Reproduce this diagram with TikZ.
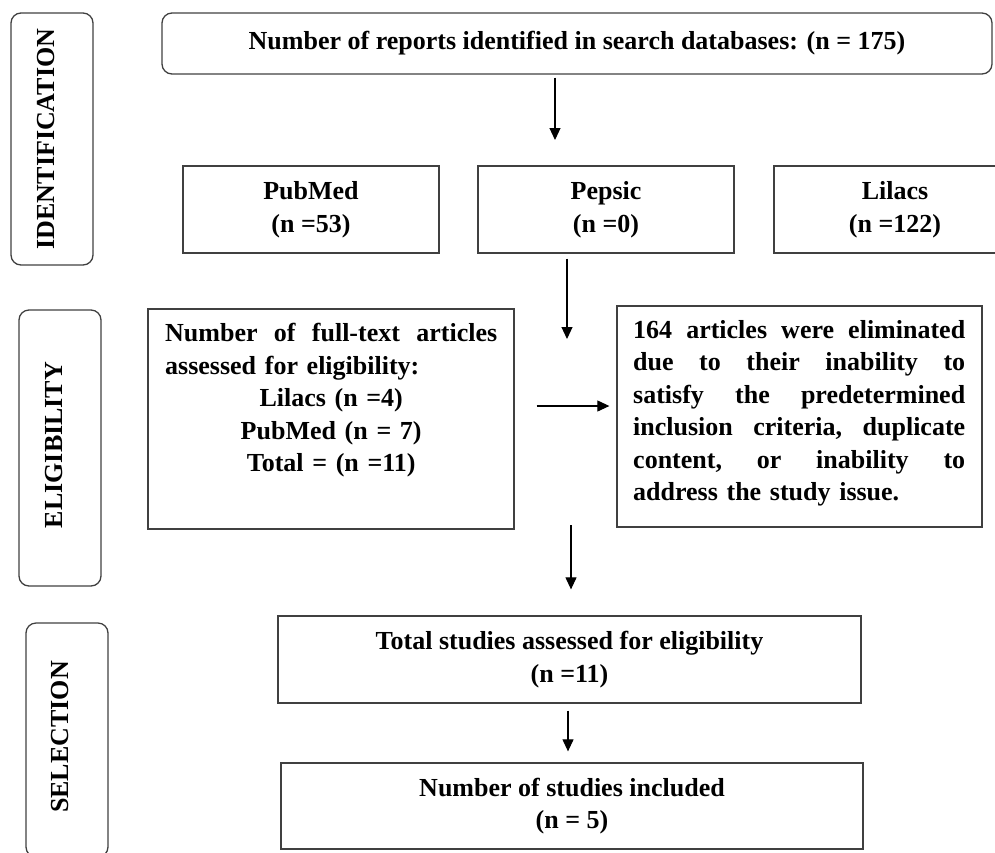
\documentclass[tikz,border=0pt]{standalone}
\usepackage{fontspec}
\setmainfont{Liberation Serif}
\usetikzlibrary{arrows.meta,calc}
\newcommand\jline[1]{\leavevmode\hbox to 332pt{#1}}
\newcommand\cenline[1]{\leavevmode\hbox to 332pt{\hfil#1\hfil}}
\begin{document}
\begin{tikzpicture}[x=1pt,y=-1pt,
  every node/.style={font=\fontsize{26}{32.5}\selectfont\bfseries, text=black},
  stagebox/.style={draw=black!75, line width=1.3pt, rounded corners=10pt, inner sep=0pt},
  box/.style={draw=black!75, line width=1.3pt, align=center, inner sep=0pt},
  txt/.style={inner sep=0pt, align=left, text width=332pt, anchor=north west},
  arr/.style={draw=black, line width=1.1pt, -{Triangle[length=12pt,width=11pt]}}]
\useasboundingbox (0,0) rectangle (995,852);
\clip (0,0) rectangle (995,852);

% stage labels
\node[stagebox, minimum width=82pt, minimum height=252pt] (idbox) at (52,139) {};
\node[rotate=90, inner sep=0pt] (idtxt) at (46,139) {IDENTIFICATION};
\node[stagebox, minimum width=82pt, minimum height=276pt] (elbox) at (60,448) {};
\node[rotate=90, inner sep=0pt] (eltxt) at (54,445) {ELIGIBILITY};
\node[stagebox, minimum width=82pt, minimum height=234pt] (selbox) at (67,740) {};
\node[rotate=90, inner sep=0pt] (seltxt) at (60,737) {SELECTION};

% identification
\node[box, rounded corners=10pt, minimum width=830pt, minimum height=61pt] (top) at (577,43.5)
  {Number of reports identified in search databases: (n = 175)};
\node[box, minimum width=256pt, minimum height=87pt] (pubmed) at (311,209.5) {PubMed\\(n =53)};
\node[box, minimum width=256pt, minimum height=87pt] (pepsic) at (606,209.5) {Pepsic\\(n =0)};
\node[box, minimum width=242pt, minimum height=87pt] (lilacs) at (895,209.5) {Lilacs\\(n =122)};

% eligibility
\node[box, minimum width=366pt, minimum height=220pt] (ft) at (331,419) {};
\node[txt] (fttxt) at (165,323) {\jline{Number \hfill of \hfill full-text \hfill articles}\\
assessed for eligibility:\\
\cenline{Lilacs (n =4)}\\
\cenline{PubMed (n = 7)}\\
\cenline{Total = (n =11)}};
\node[box, minimum width=365pt, minimum height=221pt] (elim) at (799.5,416.5) {};
\node[txt] (elimtxt) at (633,320) {\jline{164 \hfill articles \hfill were \hfill eliminated}\\
\jline{due \hfill to \hfill their \hfill inability \hfill to}\\
\jline{satisfy \hfill the \hfill predetermined}\\
\jline{inclusion \hfill criteria, \hfill duplicate}\\
\jline{content, \hfill or \hfill inability \hfill to}\\
address the study issue.};

% selection
\node[box, minimum width=583pt, minimum height=87pt] (tot) at (569.5,659.5)
  {Total studies assessed for eligibility\\(n =11)};
\node[box, minimum width=582pt, minimum height=86pt] (inc) at (572,806)
  {Number of studies included\\(n = 5)};

% connectors
\coordinate (a1e) at (555,140);
\draw[arr, shorten <=3pt] (top.south -| a1e) -- (a1e);
\coordinate (a2e) at (567,339);
\draw[arr, shorten <=5pt] (pepsic.south -| a2e) -- (a2e);
\coordinate (a3) at (0,406);
\draw[arr, shorten <=22pt, shorten >=7pt] (ft.east |- a3) -- (elim.west |- a3);
\coordinate (a4s) at (571,525);
\draw[arr, shorten >=26pt] (a4s) -- (tot.north -| a4s);
\coordinate (a5) at (568,0);
\draw[arr, shorten <=7pt, shorten >=11pt] (tot.south -| a5) -- (inc.north -| a5);
\end{tikzpicture}
\end{document}
